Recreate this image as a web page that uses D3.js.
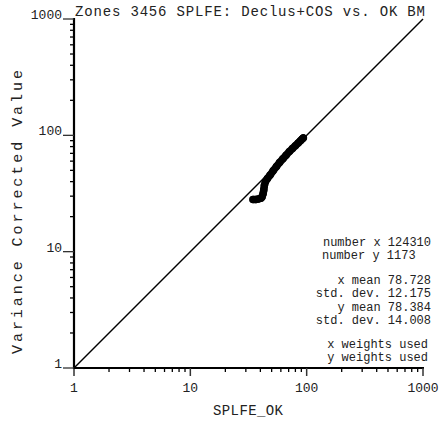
<!DOCTYPE html>
<html>
<head>
<meta charset="utf-8">
<script src="https://cdn.jsdelivr.net/npm/d3@7"></script>
<style>
  html, body { margin: 0; padding: 0; background: #fff; }
  svg text { font-family: "Liberation Mono", "Courier New", monospace; fill: #222; }
</style>
</head>
<body>
<svg id="chart" width="443" height="430"></svg>
<script>
// ---- data ----
const title = "Zones 3456 SPLFE: Declus+COS vs. OK BM";
const xLabel = "SPLFE_OK";
const yLabel = "Variance Corrected Value";
const majorTicks = [1, 10, 100, 1000];
const tickLabels = ["1", "10", "100", "1000"];
// Q-Q pairs (x quantile, y quantile) as read from the plotted points
const qqX = [34.6, 36.5, 38.2, 40.5, 41.3, 42.2, 42.8, 43.3, 44.2, 46.0, 48.5, 51.5, 55.0, 58.5, 62.5, 66.5, 71.0, 75.5, 80.0, 84.5, 88.5, 91.5, 93.5];
const qqY = [28.1, 28.1, 28.3, 28.8, 29.5, 31.5, 34.0, 37.0, 40.0, 42.5, 45.5, 49.5, 54.0, 58.5, 63.0, 67.5, 72.5, 77.0, 81.5, 86.0, 90.0, 93.0, 95.0];
const statsLines = ["number x 124310", "number y 1173", "x mean 78.728", "std. dev. 12.175", "y mean 78.384", "std. dev. 14.008", "x weights used", "y weights used"];

// ---- drawing ----
const svg = d3.select("#chart");
const x = d3.scaleLog().domain([1, 1000]).range([74, 423]);
const y = d3.scaleLog().domain([1, 1000]).range([368, 19]);

const minorTicks = [];
[1, 10, 100].forEach(d => { for (let k = 2; k <= 9; k++) minorTicks.push(d * k); });

// 1:1 reference line
svg.append("line")
  .attr("x1", x(1)).attr("y1", y(1))
  .attr("x2", x(1000)).attr("y2", y(1000))
  .attr("stroke", "#000").attr("stroke-width", 1.5);

// Q-Q points
const pts = qqX.map((v, i) => [v, qqY[i]]);
svg.append("path")
  .datum(pts)
  .attr("d", d3.line().x(d => x(d[0])).y(d => y(d[1])))
  .attr("fill", "none").attr("stroke", "#000")
  .attr("stroke-width", 7.5).attr("stroke-linecap", "round").attr("stroke-linejoin", "round");
svg.append("g").selectAll("circle").data(pts).join("circle")
  .attr("cx", d => x(d[0])).attr("cy", d => y(d[1])).attr("r", 3.75).attr("fill", "#000");

// X axis
const gx = svg.append("g");
gx.append("line").attr("x1", x(1) - 1).attr("x2", x(1000) + 1).attr("y1", y(1)).attr("y2", y(1))
  .attr("stroke", "#000").attr("stroke-width", 2);
gx.selectAll(".mj").data(majorTicks).join("line")
  .attr("x1", d => x(d)).attr("x2", d => x(d))
  .attr("y1", y(1)).attr("y2", y(1) + 8)
  .attr("stroke", "#333").attr("stroke-width", 1.5);
gx.selectAll(".mn").data(minorTicks).join("line")
  .attr("x1", d => x(d)).attr("x2", d => x(d))
  .attr("y1", y(1)).attr("y2", y(1) + 4)
  .attr("stroke", "#000").attr("stroke-width", 1.3);
gx.selectAll("text").data(majorTicks).join("text")
  .attr("x", d => x(d)).attr("y", 392)
  .attr("text-anchor", "middle").attr("font-size", 13)
  .text((d, i) => tickLabels[i]);

// Y axis
const gy = svg.append("g");
gy.append("line").attr("x1", x(1)).attr("x2", x(1)).attr("y1", y(1000) - 1).attr("y2", y(1) + 1)
  .attr("stroke", "#000").attr("stroke-width", 2.2);
gy.selectAll(".mj").data(majorTicks).join("line")
  .attr("x1", x(1) - 11).attr("x2", x(1))
  .attr("y1", d => y(d)).attr("y2", d => y(d))
  .attr("stroke", "#333").attr("stroke-width", 1.3);
gy.selectAll(".mn").data(minorTicks).join("line")
  .attr("x1", x(1) - 4).attr("x2", x(1))
  .attr("y1", d => y(d)).attr("y2", d => y(d))
  .attr("stroke", "#000").attr("stroke-width", 1.3);
gy.selectAll("text").data(majorTicks).join("text")
  .attr("x", 62).attr("y", d => y(d))
  .attr("text-anchor", "end").attr("font-size", 13)
  .text((d, i) => tickLabels[i]);

// Title
svg.append("text").attr("x", 75).attr("y", 16)
  .attr("font-size", 14).attr("textLength", 350).attr("lengthAdjust", "spacing")
  .text(title);

// Axis labels
svg.append("text").attr("x", 248).attr("y", 415)
  .attr("text-anchor", "middle").attr("font-size", 14)
  .attr("textLength", 70).attr("lengthAdjust", "spacing")
  .text(xLabel);
svg.append("text")
  .attr("transform", "translate(22,212) rotate(-90)")
  .attr("text-anchor", "middle").attr("font-size", 15)
  .attr("textLength", 284).attr("lengthAdjust", "spacing")
  .text(yLabel);

// Statistics block
const statY = [246, 259, 284, 297, 311, 324, 348, 361];
const statX = [431, 322, 431, 431, 431, 431, 428, 428];
const statAnchor = ["end", "start", "end", "end", "end", "end", "end", "end"];
svg.append("g").selectAll("text").data(statsLines).join("text")
  .attr("x", (d, i) => statX[i]).attr("y", (d, i) => statY[i])
  .attr("text-anchor", (d, i) => statAnchor[i])
  .attr("font-size", 12)
  .text(d => d);
</script>
</body>
</html>
